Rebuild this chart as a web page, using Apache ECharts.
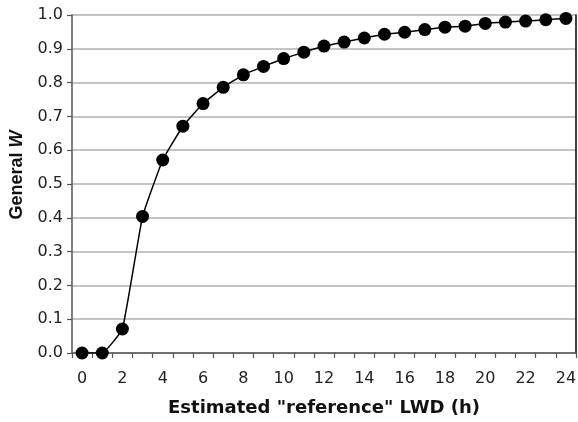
<!DOCTYPE html>
<html>
<head>
<meta charset="utf-8">
<script src="https://cdn.jsdelivr.net/npm/echarts@6/dist/echarts.min.js"></script>
<style>
  html, body { margin: 0; padding: 0; background: #fff; }
  #chart { width: 578px; height: 422px; }
</style>
</head>
<body>
<div id="chart"></div>
<script>
// Estimated "reference" leaf wetness duration, hours 0..24
const hours = ['0','1','2','3','4','5','6','7','8','9','10','11','12','13','14','15','16','17','18','19','20','21','22','23','24'];
// General W for each hour
const generalW = [0, 0, 0.071, 0.404, 0.571, 0.671, 0.738, 0.786, 0.823, 0.848, 0.871, 0.890, 0.908, 0.920, 0.932, 0.943, 0.949, 0.957, 0.964, 0.967, 0.975, 0.979, 0.982, 0.986, 0.990];

const chart = echarts.init(document.getElementById('chart'), null, { renderer: 'canvas' });

const labelFont = { fontFamily: 'DejaVu Sans', fontSize: 16, color: '#222' };

chart.setOption({
  animation: false,
  backgroundColor: '#fff',
  grid: { left: 72, right: 2, top: 15, bottom: 69, containLabel: false, outerBoundsMode: 'none' },
  xAxis: {
    type: 'category',
    data: hours,
    boundaryGap: true,
    name: 'Estimated "reference" LWD (h)',
    nameLocation: 'middle',
    nameGap: 46,
    nameTextStyle: { fontFamily: 'DejaVu Sans', fontWeight: 'bold', fontSize: 18, color: '#111' },
    axisLine: { lineStyle: { color: '#555', width: 1.5 } },
    axisTick: { show: true, interval: 0, length: 5, lineStyle: { color: '#555', width: 1.2 } },
    axisLabel: Object.assign({ interval: 1, margin: 18 }, labelFont),
    splitLine: { show: false }
  },
  yAxis: [
    {
      type: 'value',
      min: 0,
      max: 1,
      interval: 0.1,
      name: '{a|General }{b|W}',
      nameLocation: 'middle',
      nameGap: 46,
      nameTextStyle: {
        padding: [0, 0, 0, 18],
        rich: {
          a: { fontFamily: 'Liberation Sans', fontWeight: 'bold', fontSize: 18, color: '#111' },
          b: { fontFamily: 'Liberation Sans', fontWeight: 'bold', fontStyle: 'italic', fontSize: 18, color: '#111' }
        }
      },
      axisLine: { show: true, lineStyle: { color: '#555', width: 1.5 } },
      axisTick: { show: true, length: 5, lineStyle: { color: '#555', width: 1.2 } },
      axisLabel: Object.assign({ margin: 9, formatter: v => v.toFixed(1) }, labelFont),
      splitLine: { show: true, lineStyle: { color: '#b0b0b0', width: 1.5 } }
    },
    {
      type: 'value',
      position: 'right',
      min: 0,
      max: 1,
      axisLine: { show: true, lineStyle: { color: '#000', width: 1.5 } },
      axisTick: { show: false },
      axisLabel: { show: false },
      splitLine: { show: false }
    }
  ],
  series: [
    {
      type: 'line',
      data: generalW,
      yAxisIndex: 0,
      smooth: 0.1,
      symbol: 'circle',
      symbolSize: 13,
      showSymbol: true,
      lineStyle: { color: '#000', width: 1.5 },
      itemStyle: { color: '#000', borderWidth: 0 }
    }
  ]
});
</script>
</body>
</html>
